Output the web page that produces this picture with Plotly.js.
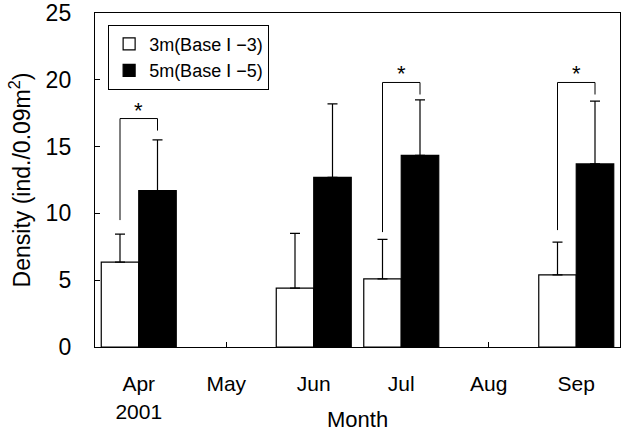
<!DOCTYPE html>
<html><head><meta charset="utf-8">
<script src="https://cdn.plot.ly/plotly-3.0.1.min.js"></script>
<style>html,body{margin:0;padding:0;background:#fff}#chart{width:625px;height:433px}</style>
</head><body><div id="chart"></div>
<script>
const months = ['Apr<br>2001','May','Jun','Jul','Aug','Sep'];
const base3 = [6.35, null, 4.4, 5.1, null, 5.4];
const base3Err = [2.1, null, 4.1, 2.95, null, 2.45];
const base5 = [11.7, null, 12.7, 14.35, null, 13.7];
const base5Err = [3.8, null, 5.5, 4.15, null, 4.7];
const sigIndex = [0, 3, 5];
const bracketTop = [17.1, 19.8, 19.8];
const bracketLeftEnd = [9.5, 8.6, 8.75];
const bracketRightEnd = [16.2, 18.9, 18.9];

const bargap = 0.143;
const off = (1 - bargap) / 4;
const font = 'Liberation Sans, Arial, sans-serif';

const shapes = [];
const annotations = [];
sigIndex.forEach((ci, k) => {
  const xl = ci - off, xr = ci + off;
  shapes.push({type:'path', xref:'x', yref:'y',
    path:`M ${xl},${bracketLeftEnd[k]} L ${xl},${bracketTop[k]} L ${xr},${bracketTop[k]} L ${xr},${bracketRightEnd[k]}`,
    line:{color:'#000', width:1}});
  annotations.push({x:ci, y:bracketTop[k], xref:'x', yref:'y', text:'*', showarrow:false,
    yanchor:'bottom', yshift:-6, font:{family:font, size:22, color:'#000'}});
});
annotations.push({x:0.5, y:-73/334, xref:'paper', yref:'paper', text:'Month', showarrow:false,
  xanchor:'center', yanchor:'middle', font:{family:font, size:22, color:'#000'}});

const traces = [
  {type:'bar', name:'3m(Base Ⅰ −3)', x:[0,1,2,3,4,5], y:base3,
   marker:{color:'#fff', line:{color:'#000', width:1.2}},
   error_y:{type:'data', symmetric:false, array:base3Err, arrayminus:base3Err.map(()=>0),
     color:'#000', thickness:1.2, width:5}},
  {type:'bar', name:'5m(Base Ⅰ −5)', x:[0,1,2,3,4,5], y:base5,
   marker:{color:'#000', line:{color:'#000', width:1.2}},
   error_y:{type:'data', symmetric:false, array:base5Err, arrayminus:base5Err.map(()=>0),
     color:'#000', thickness:1.2, width:5}}
];

const layout = {
  width:625, height:433,
  margin:{l:95, r:5, t:13, b:86},
  paper_bgcolor:'#fff', plot_bgcolor:'#fff',
  barmode:'group', bargap:bargap, bargroupgap:0,
  font:{family:font, color:'#000'},
  showlegend:true,
  legend:{x:0.025, y:0.965, xanchor:'left', yanchor:'top', bgcolor:'#fff',
    bordercolor:'#000', borderwidth:1, font:{family:font, size:18, color:'#000'},
    tracegroupgap:0, itemwidth:20},
  xaxis:{tickmode:'array', tickvals:[0,1,2,3,4,5], ticktext:months, range:[-0.5,5.5],
    showline:true, linecolor:'#000', linewidth:1.2, mirror:true,
    ticks:'inside', ticklen:5, tickcolor:'#000', showgrid:false, zeroline:false,
    tickfont:{size:21, family:font}, ticklabelstandoff:18},
  yaxis:{range:[0,25], dtick:5, tick0:0,
    showline:true, linecolor:'#000', linewidth:1.2, mirror:true,
    ticks:'inside', ticklen:5, tickcolor:'#000', showgrid:false, zeroline:false,
    tickfont:{size:23, family:font}, ticklabelstandoff:18,
    title:{text:'Density (ind./0.09m<sup>2</sup>)', font:{size:23, family:font}, standoff:8}},
  shapes:shapes, annotations:annotations
};
Plotly.newPlot('chart', traces, layout, {displayModeBar:false, staticPlot:true});
</script></body></html>
